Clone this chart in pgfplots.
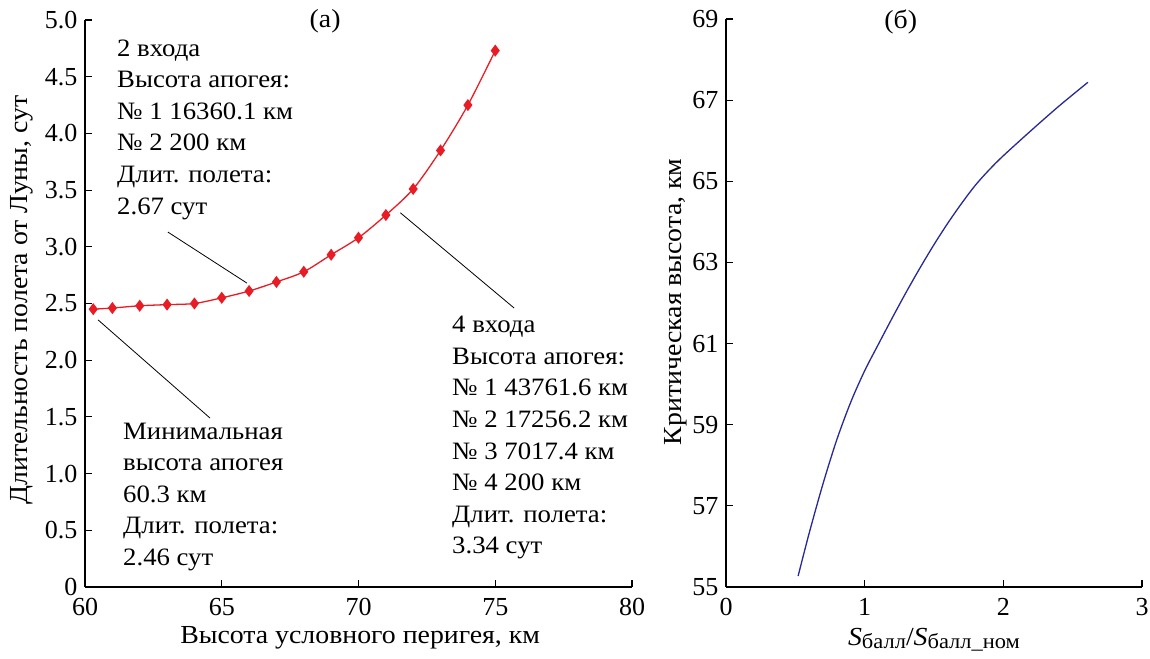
\documentclass[border=0pt]{standalone}
\usepackage{fontspec}
\setmainfont{Liberation Serif}[FakeStretch=1.07]
\newfontfamily\tickfont{Liberation Serif}
\usepackage{pgfplots}
\pgfplotsset{compat=1.18}
\definecolor{cred}{RGB}{232,28,36}
\definecolor{cblue}{RGB}{40,40,150}
\newcommand{\fs}{\fontsize{26}{31.6}\selectfont}
\newcommand{\fa}{\fontsize{25}{31.6}\selectfont}
\newcommand{\ft}{\tickfont\fontsize{26}{26}\selectfont}
\begin{document}
\begin{tikzpicture}[x=1pt,y=1pt]
\useasboundingbox (0,0) rectangle (1150,658);
\begin{axis}[
  at={(85pt,71pt)}, anchor=south west,
  scale only axis, width=547pt, height=567pt,
  xmin=60, xmax=80, ymin=0, ymax=5,
  axis x line=bottom, axis y line=left,
  axis line style={-, line width=1.3pt, black},
  tick align=inside, major tick length=7pt,
  tick style={line width=1.1pt, black},
  xtick={60,65,70,75,80},
  ytick={0,0.5,1,1.5,2,2.5,3,3.5,4,4.5,5},
  yticklabels={0,0.5,1.0,1.5,2.0,2.5,3.0,3.5,4.0,4.5,5.0},
  xticklabels={60,65,70,75,80},
  tick label style={font=\ft},
  yticklabel style={xshift=-4pt},
  xticklabel style={yshift=-8pt},
  xlabel={Высота условного перигея, км},
  ylabel={Длительность полета от Луны, сут},
  xlabel style={font=\fs, at={(axis description cs:0.503,-0.09)}, anchor=center},
  ylabel style={font=\fs, at={(axis description cs:-0.115,0.506)}, anchor=center},
  clip=false,
]
\addplot[cred, line width=1.3pt, smooth, mark=diamond*, mark size=5pt, mark options={fill=cred, draw=cred}] coordinates {
(60.3,2.45) (61,2.46) (62,2.48) (63,2.49) (64,2.50) (65,2.55) (66,2.61) (67,2.69) (68,2.78) (69,2.93) (70,3.08) (71,3.28) (72,3.51) (73,3.85) (74,4.25) (75,4.73)
};
\node[font=\fs] at (axis description cs:0.439,0.997) {(a)};
\node[font=\fa, align=left, anchor=north west, inner sep=0pt] at (axis cs:61.17,4.83) {2 входа\\Высота апогея:\\№ 1 16360.1 км\\№ 2 200 км\\Длит. полета:\\2.67 сут};
\node[font=\fa, align=left, anchor=north west, inner sep=0pt] at (axis cs:73.42,2.39) {4 входа\\Высота апогея:\\№ 1 43761.6 км\\№ 2 17256.2 км\\№ 3 7017.4 км\\№ 4 200 км\\Длит. полета:\\3.34 сут};
\node[font=\fa, align=left, anchor=north west, inner sep=0pt] at (axis cs:61.39,1.45) {Минимальная\\высота апогея\\60.3 км\\Длит. полета:\\2.46 сут};
\draw[black, line width=0.8pt] (axis cs:63.03,3.13) -- (axis cs:65.92,2.68);
\draw[black, line width=0.8pt] (axis cs:71.53,3.30) -- (axis cs:75.69,2.46);
\draw[black, line width=0.8pt] (axis cs:60.48,2.355) -- (axis cs:64.57,1.49);
\end{axis}
\begin{axis}[
  at={(726pt,71pt)}, anchor=south west,
  scale only axis, width=416pt, height=568pt,
  xmin=0, xmax=3, ymin=55, ymax=69,
  axis x line=bottom, axis y line=left,
  axis line style={-, line width=1.3pt, black},
  tick align=inside, major tick length=7pt,
  tick style={line width=1.1pt, black},
  xtick={0,1,2,3}, xticklabels={0,1,2,3},
  ytick={55,57,59,61,63,65,67,69},
  yticklabels={55,57,59,61,63,65,67,69},
  tick label style={font=\ft},
  yticklabel style={xshift=-4pt},
  xticklabel style={yshift=-8pt},
  xlabel={\textit{S}\raisebox{-0.25ex}{\fontsize{21}{21}\selectfont балл}/\textit{S}\raisebox{-0.25ex}{\fontsize{21}{21}\selectfont балл\_ном}},
  ylabel={Критическая высота, км},
  xlabel style={font=\fs, at={(axis description cs:0.5,-0.093)}, anchor=center},
  ylabel style={font=\fs, at={(axis description cs:-0.12,0.502)}, anchor=center},
  clip=false,
]
\addplot[cblue, line width=1.3pt, smooth, no marks] coordinates {
(0.52,55.27) (0.6,56.33) (0.7,57.55) (0.8,58.64) (0.9,59.56) (1.0,60.33) (1.1,60.99) (1.2,61.64) (1.3,62.27) (1.4,62.87) (1.5,63.44) (1.6,63.97) (1.7,64.46) (1.8,64.91) (1.9,65.29) (2.0,65.63) (2.2,66.25) (2.4,66.85) (2.61,67.44)
};
\node[font=\fs] at (axis description cs:0.42,0.995) {(б)};
\end{axis}
\end{tikzpicture}
\end{document}
